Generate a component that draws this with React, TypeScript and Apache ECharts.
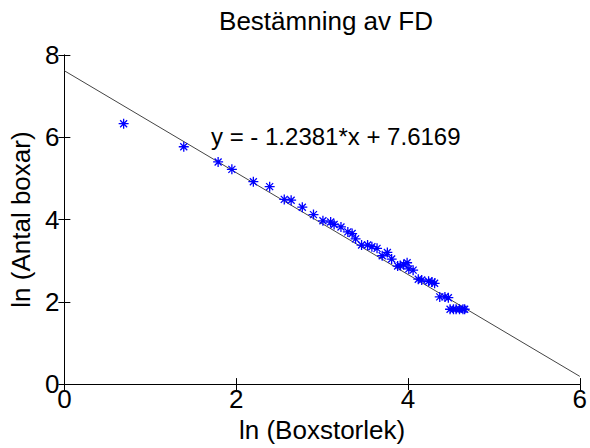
import React, { useEffect, useRef } from "react";
import * as echarts from "echarts";

const titleText = "Bestämning av FD";
const xAxisName = "ln (Boxstorlek)";
const yAxisName = "ln (Antal boxar)";

// ln(box size)
const lnBoxSize = [
  0.69, 1.39, 1.79, 1.95, 2.2, 2.39, 2.56, 2.64, 2.77, 2.9,
  3.01, 3.1, 3.14, 3.22, 3.3, 3.35, 3.39, 3.46, 3.53, 3.58,
  3.64, 3.7, 3.76, 3.81, 3.88, 3.91, 3.95, 3.99, 4.01, 4.06,
  4.12, 4.16, 4.24, 4.28, 4.31, 4.37, 4.43, 4.47, 4.49, 4.53,
  4.56, 4.6, 4.64, 4.66,
];
// ln(number of boxes)
const lnBoxCount = [
  6.33, 5.77, 5.4, 5.22, 4.92, 4.8, 4.49, 4.47, 4.3, 4.12,
  3.97, 3.94, 3.88, 3.82, 3.7, 3.66, 3.53, 3.38, 3.38, 3.34,
  3.3, 3.12, 3.2, 3.04, 2.87, 2.88, 2.9, 2.95, 2.8, 2.77,
  2.55, 2.53, 2.5, 2.48, 2.45, 2.12, 2.12, 2.1, 1.82, 1.82,
  1.82, 1.82, 1.82, 1.82,
];

const slope = -1.2381;
const intercept = 7.6169;
const fitRange = [0, 6];

const xTicks = { min: 0, max: 6, interval: 2 };
const yTicks = { min: 0, max: 8, interval: 2 };

const FONT = "'Liberation Sans', Arial, Helvetica, sans-serif";
const FS = 26;

export default function App() {
  const ref = useRef<HTMLDivElement>(null);

  useEffect(() => {
    if (!ref.current) return;
    const chart = echarts.init(ref.current, undefined, { renderer: "svg" });

    const points = lnBoxSize.map((x, i) => [x, lnBoxCount[i]]);
    const fitLine = fitRange.map((x) => [x, slope * x + intercept]);

    const axisLine = { show: true, lineStyle: { color: "#000", width: 1 } };
    const axisTick = { show: true, inside: true, length: 6, lineStyle: { color: "#000", width: 1 } };
    const axisLabel = { color: "#000", fontSize: FS, fontFamily: FONT };

    const eqText = `y = - ${Math.abs(slope)}*x + ${intercept}`;

    chart.setOption({
      animation: false,
      backgroundColor: "#fff",
      title: {
        text: titleText,
        left: 321,
        textAlign: "center",
        top: 3,
        textStyle: { color: "#000", fontSize: FS, fontWeight: "normal", fontFamily: FONT },
      },
      grid: { left: 61, right: 9, top: 55, bottom: 53, containLabel: false },
      xAxis: [
        {
          type: "value",
          ...xTicks,
          position: "bottom",
          name: xAxisName,
          nameLocation: "middle",
          nameGap: 27,
          nameTextStyle: { color: "#000", fontSize: FS, fontFamily: FONT },
          axisLine,
          axisTick,
          axisLabel: { ...axisLabel, margin: 2 },
          splitLine: { show: false },
        },
        {
          type: "value",
          ...xTicks,
          position: "top",
          axisLine,
          axisTick,
          axisLabel: { show: false },
          splitLine: { show: false },
        },
      ],
      yAxis: [
        {
          type: "value",
          ...yTicks,
          position: "left",
          name: yAxisName,
          nameLocation: "middle",
          nameGap: 27,
          nameRotate: 90,
          nameTextStyle: { color: "#000", fontSize: FS, fontFamily: FONT },
          axisLine,
          axisTick,
          axisLabel: { ...axisLabel, margin: 5 },
          splitLine: { show: false },
        },
        {
          type: "value",
          ...yTicks,
          position: "right",
          axisLine,
          axisTick,
          axisLabel: { show: false },
          splitLine: { show: false },
        },
      ],
      series: [
        {
          type: "line",
          data: fitLine,
          symbol: "none",
          lineStyle: { color: "#444", width: 1 },
          z: 2,
        },
        {
          type: "scatter",
          data: points,
          symbol: "path://M5,0L5,10M0,5L10,5M1.5,1.5L8.5,8.5M8.5,1.5L1.5,8.5",
          symbolSize: 10,
          itemStyle: { color: "#0000ff", borderColor: "#0000ff", borderWidth: 1.3, opacity: 1 },
          z: 3,
        },
      ],
      graphic: [
        {
          type: "text",
          left: 211,
          top: 124,
          style: { text: eqText, fill: "#000", fontSize: 24, fontFamily: FONT },
        },
      ],
    });

    return () => chart.dispose();
  }, []);

  return (
    <div
      ref={ref}
      style={{ position: "fixed", left: 0, top: 0, width: 590, height: 448, background: "#fff" }}
    />
  );
}
